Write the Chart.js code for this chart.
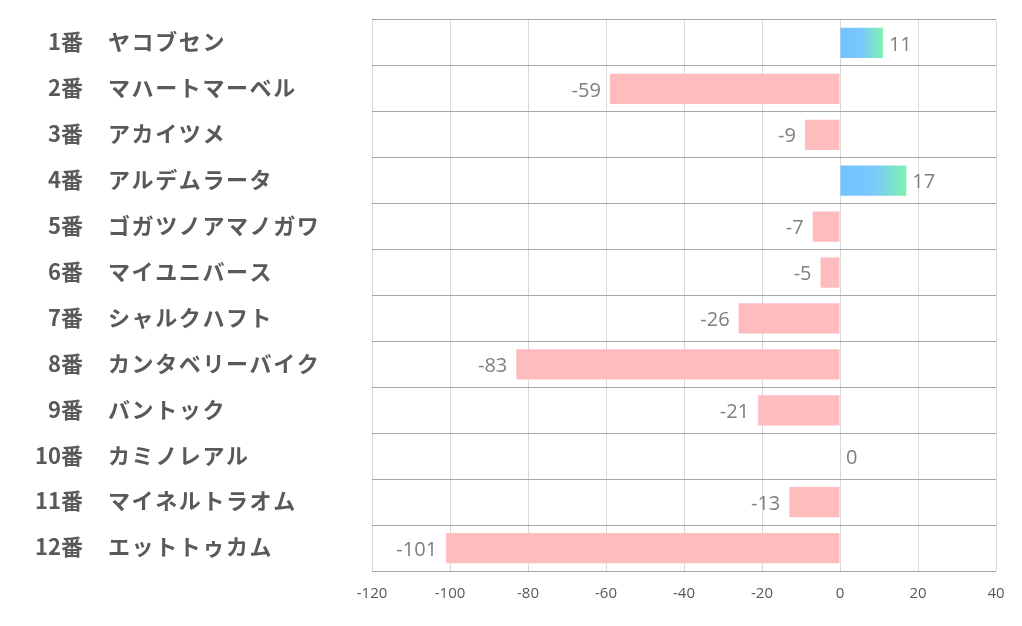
<!DOCTYPE html>
<html>
<head>
<meta charset="utf-8">
<script src="https://cdn.jsdelivr.net/npm/chart.js@4/dist/chart.umd.min.js"></script>
<style>
  html, body { margin: 0; padding: 0; background: #fff; }
  #wrap { width: 1022px; height: 626px; }
</style>
</head>
<body>
<div id="wrap"><canvas id="c"></canvas></div>
<script>
const horseNums = ['1番', '2番', '3番', '4番', '5番', '6番', '7番', '8番', '9番', '10番', '11番', '12番'];
const horseNames = ['ヤコブセン', 'マハートマーベル', 'アカイツメ', 'アルデムラータ', 'ゴガツノアマノガワ', 'マイユニバース',
  'シャルクハフト', 'カンタベリーバイク', 'バントック', 'カミノレアル', 'マイネルトラオム', 'エットトゥカム'];
const scores = [11, -59, -9, 17, -7, -5, -26, -83, -21, 0, -13, -101];
const xTicks = [-120, -100, -80, -60, -40, -20, 0, 20, 40];

const labels = horseNums.map((n, i) => n + '　' + horseNames[i]);
const JP = '"Noto Sans CJK JP", "Noto Sans", sans-serif';

/* 正の棒は青→緑のグラデーション、負の棒はピンク */
function barColor(ctx) {
  const chart = ctx.chart;
  const v = scores[ctx.dataIndex];
  if (v < 0) return '#ffbcbf';
  const area = chart.chartArea;
  if (!area || !chart.scales.x) return '#78c6ff';
  const x0 = chart.scales.x.getPixelForValue(0);
  const x1 = chart.scales.x.getPixelForValue(v);
  if (x1 - x0 < 1) return '#78c6ff';
  const g = chart.ctx.createLinearGradient(x0, 0, x1, 0);
  g.addColorStop(0, '#72c4ff');
  g.addColorStop(0.5, '#7ac8fd');
  g.addColorStop(1, '#7ef2ae');
  return g;
}

/* 左側の馬番・馬名 */
const nameLabels = {
  id: 'nameLabels',
  afterDraw(chart) {
    const { ctx, scales: { y } } = chart;
    ctx.save();
    ctx.font = 'bold 22px ' + JP;
    ctx.fillStyle = '#595959';
    ctx.textBaseline = 'middle';
    horseNums.forEach((n, i) => {
      const py = y.getPixelForValue(i) - 1;
      ctx.letterSpacing = '0px';
      ctx.textAlign = 'right';
      ctx.fillText(n, 83, py);
      ctx.letterSpacing = '1.6px';
      ctx.textAlign = 'left';
      ctx.fillText(horseNames[i], 108, py);
    });
    ctx.restore();
  },
};

/* 棒の端に値 */
const valueLabels = {
  id: 'valueLabels',
  afterDatasetsDraw(chart) {
    const { ctx } = chart;
    const meta = chart.getDatasetMeta(0);
    ctx.save();
    ctx.font = '20px "Open Sans", "Noto Sans", sans-serif';
    ctx.fillStyle = '#7f7f7f';
    ctx.textBaseline = 'middle';
    meta.data.forEach((bar, i) => {
      const v = scores[i];
      if (v < 0) {
        ctx.textAlign = 'right';
        ctx.fillText(String(v), bar.x - 9, bar.y + 2);
      } else {
        ctx.textAlign = 'left';
        ctx.fillText(String(v), bar.x + 6, bar.y + 2);
      }
    });
    ctx.restore();
  },
};

new Chart(document.getElementById('c').getContext('2d'), {
  type: 'bar',
  data: {
    labels,
    datasets: [{
      data: scores,
      backgroundColor: barColor,
      borderWidth: 0,
      categoryPercentage: 1,
      barPercentage: 0.66,
    }],
  },
  options: {
    indexAxis: 'y',
    responsive: true, maintainAspectRatio: false,
    animation: false,
    layout: { padding: { left: 372, right: 26, top: 20, bottom: 9 } },
    plugins: { legend: { display: false }, tooltip: { enabled: false } },
    scales: {
      x: {
        min: -120, max: 40,
        afterBuildTicks: s => { s.ticks = xTicks.map(v => ({ value: v })); },
        grid: { color: '#d9d9d9', lineWidth: 1, drawTicks: false },
        border: { display: false },
        ticks: { color: '#595959', font: { size: 15, family: '"Liberation Sans Narrow", "Open Sans", sans-serif' }, padding: 14 },
      },
      y: {
        grid: { color: '#a6a6a6', lineWidth: 1, offset: true, drawTicks: false },
        border: { display: false },
        ticks: { display: false },
      },
    },
  },
  plugins: [nameLabels, valueLabels],
});
</script>
</body>
</html>
